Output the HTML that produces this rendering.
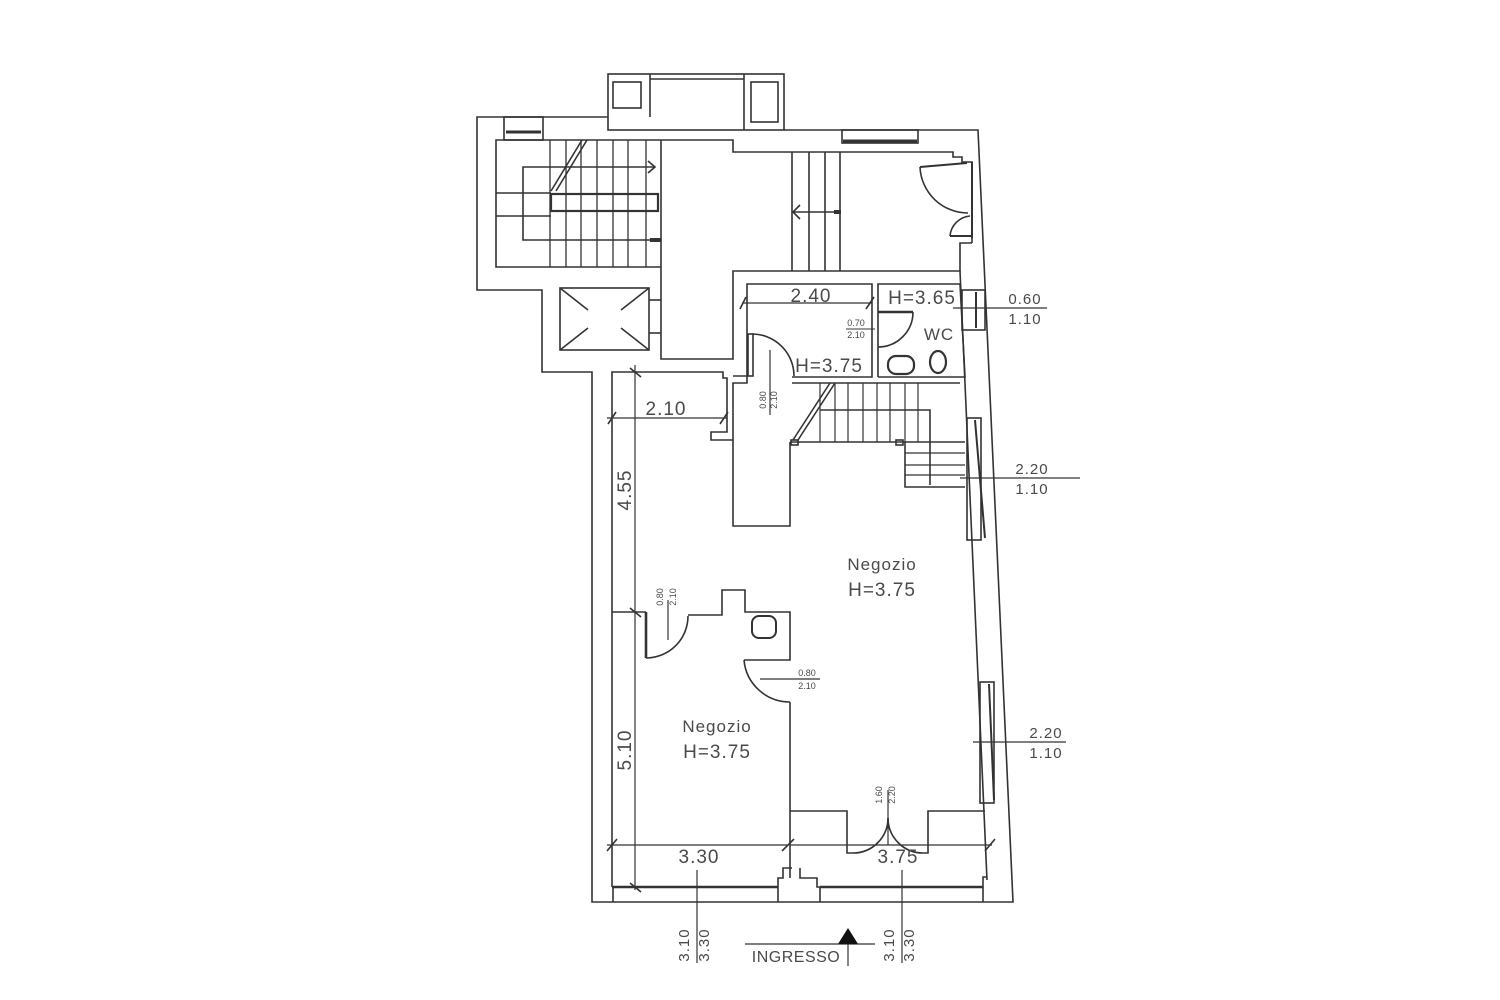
<!DOCTYPE html>
<html><head><meta charset="utf-8"><style>
html,body{margin:0;padding:0;background:#fff;}
svg{display:block;}
text{font-family:"Liberation Sans",sans-serif;fill:#4a4a4a;}
</style></head><body>
<svg width="1500" height="1000" viewBox="0 0 1500 1000" xmlns="http://www.w3.org/2000/svg">
<g fill="none" stroke="#333" stroke-width="1.6" stroke-linejoin="miter">
<rect x="608" y="74" width="176" height="56"/>
<line x1="650" y1="79" x2="744" y2="79"/>
<line x1="650" y1="74" x2="650" y2="117"/>
<line x1="744" y1="74" x2="744" y2="130"/>
<rect x="613" y="82" width="28" height="26"/>
<rect x="751" y="82" width="27" height="40"/>
<polyline points="608,117 477,117 477,290 542,290 542,372 592,372 592,902 1013,902 978,130 784,130"/>
<rect x="504" y="117" width="39" height="23"/>
<line x1="506" y1="132" x2="541" y2="132" stroke-width="3"/>
<polyline points="661,140 496,140 496,267 661,267"/>
<line x1="496" y1="193" x2="551" y2="193"/>
<line x1="496" y1="216" x2="551" y2="216"/>
<rect x="551" y="194" width="107" height="17" stroke-width="2.2"/>
<polyline points="655,167 523,167 523,240 655,240"/>
<polyline points="648,161 655,167 648,173"/>
<line x1="650" y1="240" x2="661" y2="240" stroke-width="4"/>
<g stroke-width="1.3">
<line x1="550" y1="140" x2="550" y2="267"/><line x1="566" y1="140" x2="566" y2="267"/>
<line x1="581" y1="140" x2="581" y2="267"/><line x1="597" y1="140" x2="597" y2="267"/>
<line x1="613" y1="140" x2="613" y2="267"/><line x1="628" y1="140" x2="628" y2="267"/>
<line x1="646" y1="140" x2="646" y2="267"/>
</g>
<line x1="551" y1="191" x2="582" y2="140"/><line x1="556" y1="191" x2="587" y2="140"/>
<polyline points="661,140 733,140 733,152 842,152"/>
<polyline points="661,140 661,359 733,359 733,271 960,271 960,243 972,243"/>
<rect x="842" y="130" width="76" height="13"/>
<line x1="843" y1="141" x2="917" y2="141" stroke-width="3"/>
<polyline points="842,152 953,152 953,157 962,157 962,162 972,162 972,243"/>
<rect x="560" y="288" width="89" height="62"/>
<line x1="560" y1="288" x2="588" y2="310"/><line x1="649" y1="288" x2="621" y2="310"/>
<line x1="560" y1="350" x2="588" y2="328"/><line x1="649" y1="350" x2="621" y2="328"/>
<polyline points="649,300 661,300"/><polyline points="649,333 661,333"/>
<line x1="792" y1="152" x2="792" y2="271"/><line x1="809" y1="152" x2="809" y2="271"/>
<line x1="825" y1="152" x2="825" y2="271"/><line x1="840" y1="152" x2="840" y2="271"/>
<line x1="793" y1="212" x2="835" y2="212"/>
<polyline points="800,205 793,212 800,219"/>
<line x1="834" y1="212" x2="841" y2="212" stroke-width="4"/>
<line x1="920" y1="167" x2="967" y2="163" stroke-width="2"/>
<path d="M920,167 A48,48 0 0 0 968,213"/>
<path d="M970,216 A22,22 0 0 0 950,236"/>
<line x1="950" y1="236" x2="972" y2="236" stroke-width="2"/>
<line x1="972" y1="162" x2="972" y2="238" stroke-width="2"/>
<polyline points="747,376 747,284 872,284 872,377 792,377"/>
<line x1="742" y1="303" x2="872" y2="303" stroke-width="1.2"/>
<line x1="740" y1="309" x2="746" y2="297"/><line x1="866" y1="309" x2="874" y2="297"/>
<rect x="748" y="334" width="5" height="42"/>
<path d="M752,334 A42,42 0 0 1 794,376"/>
<line x1="770" y1="350" x2="770" y2="415" stroke-width="1.2"/>
<polyline points="878,377 878,284 960,284 965,377 878,377"/>
<line x1="878" y1="312" x2="913" y2="312" stroke-width="2.4"/>
<path d="M913,312 A35,35 0 0 1 878,347"/>
<line x1="846" y1="329" x2="875" y2="329" stroke-width="1"/>
<rect x="888" y="356" width="26" height="18" rx="8" stroke-width="2.2"/>
<ellipse cx="938" cy="362" rx="8" ry="11" stroke-width="2.2"/>
<rect x="962" y="290" width="23" height="40"/>
<line x1="976" y1="292" x2="976" y2="328" stroke-width="2"/>
<line x1="953" y1="308" x2="1047" y2="308" stroke-width="1.2"/>
<line x1="960" y1="271" x2="987" y2="880"/>
<rect x="967" y="418" width="14" height="122"/>
<line x1="975" y1="420" x2="985" y2="538" stroke-width="2"/>
<line x1="960" y1="478" x2="1080" y2="478" stroke-width="1.2"/>
<rect x="980" y="682" width="14" height="121"/>
<line x1="989" y1="684" x2="994" y2="800" stroke-width="2"/>
<line x1="973" y1="742" x2="1066" y2="742" stroke-width="1.2"/>
<polyline points="612,887 612,372 723,372 723,378 727,378 727,432 711,432 711,440 733,440 733,383 747,383 747,376 733,376"/>
<line x1="635" y1="365" x2="635" y2="890" stroke-width="1.2"/>
<line x1="607" y1="418" x2="727" y2="418" stroke-width="1.2"/>
<line x1="608" y1="424" x2="616" y2="412"/><line x1="720" y1="424" x2="728" y2="412"/>
<line x1="630" y1="368" x2="641" y2="377"/><line x1="630" y1="608" x2="641" y2="617"/><line x1="630" y1="883" x2="641" y2="892"/>
<polyline points="733,440 733,526 790,526 790,442"/>
<polyline points="792,383 960,383"/>
<line x1="790" y1="442" x2="965" y2="442"/>
<g stroke-width="1.2">
<line x1="820" y1="383" x2="820" y2="442"/><line x1="835" y1="383" x2="835" y2="442"/>
<line x1="848" y1="383" x2="848" y2="442"/><line x1="863" y1="383" x2="863" y2="442"/>
<line x1="877" y1="383" x2="877" y2="442"/><line x1="890" y1="383" x2="890" y2="442"/>
<line x1="905" y1="383" x2="905" y2="442"/><line x1="918" y1="383" x2="918" y2="442"/>
<line x1="905" y1="453" x2="965" y2="453"/><line x1="905" y1="465" x2="965" y2="465"/>
<line x1="905" y1="475" x2="965" y2="475"/>
</g>
<polyline points="905,442 905,487 965,487"/>
<polyline points="820,410 930,410 930,485"/>
<line x1="793" y1="440" x2="830" y2="383"/><line x1="798" y1="440" x2="835" y2="383"/>
<rect x="791" y="440" width="7" height="5"/><rect x="896" y="440" width="7" height="5"/>
<polyline points="612,612 646,612"/>
<line x1="646" y1="612" x2="646" y2="658" stroke-width="2.6"/>
<path d="M646,658 A42,42 0 0 0 688,616"/>
<polyline points="688,615 722,615 722,590 745,590 745,612 790,612 790,660 744,660"/>
<path d="M744,660 A46,46 0 0 0 790,702"/>
<line x1="790" y1="702" x2="790" y2="878"/>
<rect x="752" y="616" width="24" height="22" rx="7" stroke-width="2"/>
<line x1="668" y1="600" x2="668" y2="640" stroke-width="1.2"/>
<line x1="760" y1="679" x2="820" y2="679" stroke-width="1.2"/>
<polyline points="790,811 847,811 847,853 853,853"/>
<polyline points="923,853 928,853 928,811 985,811"/>
<path d="M853,853 A35,35 0 0 0 888,818"/>
<path d="M923,853 A35,35 0 0 1 888,818"/>
<line x1="888" y1="790" x2="888" y2="845" stroke-width="1.2"/>
<line x1="607" y1="845" x2="787" y2="845" stroke-width="1.2"/>
<line x1="790" y1="845" x2="992" y2="845" stroke-width="1.2"/>
<line x1="607" y1="851" x2="617" y2="839"/><line x1="782" y1="851" x2="794" y2="839"/><line x1="985" y1="851" x2="995" y2="839"/>
<line x1="612" y1="887" x2="778" y2="887" stroke-width="2.6"/>
<line x1="820" y1="887" x2="983" y2="887" stroke-width="2.6"/>
<polyline points="613,902 613,887"/><polyline points="778,902 778,878 783,878 783,868 792,868"/>
<polyline points="820,902 820,887 817,887 817,878 800,878 800,868"/>
<polyline points="983,902 983,877 987,877"/>
<line x1="697" y1="870" x2="697" y2="963" stroke-width="1.2"/>
<line x1="902" y1="870" x2="902" y2="963" stroke-width="1.2"/>
<line x1="745" y1="944" x2="875" y2="944" stroke-width="1.2"/>
<line x1="848" y1="930" x2="848" y2="966" stroke-width="1.2"/>
</g>
<polygon points="848,928 838,944 858,944" fill="#111"/>
<g font-size="19" letter-spacing="1">
<text x="811" y="302" text-anchor="middle">2.40</text>
<text x="922" y="304" text-anchor="middle">H=3.65</text>
<text x="939" y="340" text-anchor="middle" font-size="17">WC</text>
<text x="829" y="372" text-anchor="middle">H=3.75</text>
<text x="666" y="415" text-anchor="middle">2.10</text>
<text x="882" y="570" text-anchor="middle" font-size="17">Negozio</text>
<text x="882" y="596" text-anchor="middle">H=3.75</text>
<text x="717" y="732" text-anchor="middle" font-size="17">Negozio</text>
<text x="717" y="758" text-anchor="middle">H=3.75</text>
<text x="699" y="863" text-anchor="middle">3.30</text>
<text x="898" y="863" text-anchor="middle">3.75</text>
<text x="796" y="962" text-anchor="middle" font-size="16" letter-spacing="0.5">INGRESSO</text>
<text transform="translate(631,490) rotate(-90)" text-anchor="middle">4.55</text>
<text transform="translate(631,750) rotate(-90)" text-anchor="middle">5.10</text>
</g>
<g font-size="15" letter-spacing="1">
<text x="1025" y="304" text-anchor="middle">0.60</text>
<text x="1025" y="324" text-anchor="middle">1.10</text>
<text x="1032" y="474" text-anchor="middle">2.20</text>
<text x="1032" y="494" text-anchor="middle">1.10</text>
<text x="1046" y="738" text-anchor="middle">2.20</text>
<text x="1046" y="758" text-anchor="middle">1.10</text>
<text transform="translate(689,945) rotate(-90)" text-anchor="middle">3.10</text>
<text transform="translate(709,945) rotate(-90)" text-anchor="middle">3.30</text>
<text transform="translate(894,945) rotate(-90)" text-anchor="middle">3.10</text>
<text transform="translate(914,945) rotate(-90)" text-anchor="middle">3.30</text>
</g>
<g font-size="9">
<text x="856" y="326" text-anchor="middle">0.70</text>
<text x="856" y="338" text-anchor="middle">2.10</text>
<text x="807" y="676" text-anchor="middle">0.80</text>
<text x="807" y="689" text-anchor="middle">2.10</text>
<text transform="translate(766,400) rotate(-90)" text-anchor="middle">0.80</text>
<text transform="translate(777,400) rotate(-90)" text-anchor="middle">2.10</text>
<text transform="translate(663,597) rotate(-90)" text-anchor="middle">0.80</text>
<text transform="translate(676,597) rotate(-90)" text-anchor="middle">2.10</text>
<text transform="translate(882,795) rotate(-90)" text-anchor="middle">1.60</text>
<text transform="translate(895,795) rotate(-90)" text-anchor="middle">2.20</text>
</g>
</svg>
</body></html>
